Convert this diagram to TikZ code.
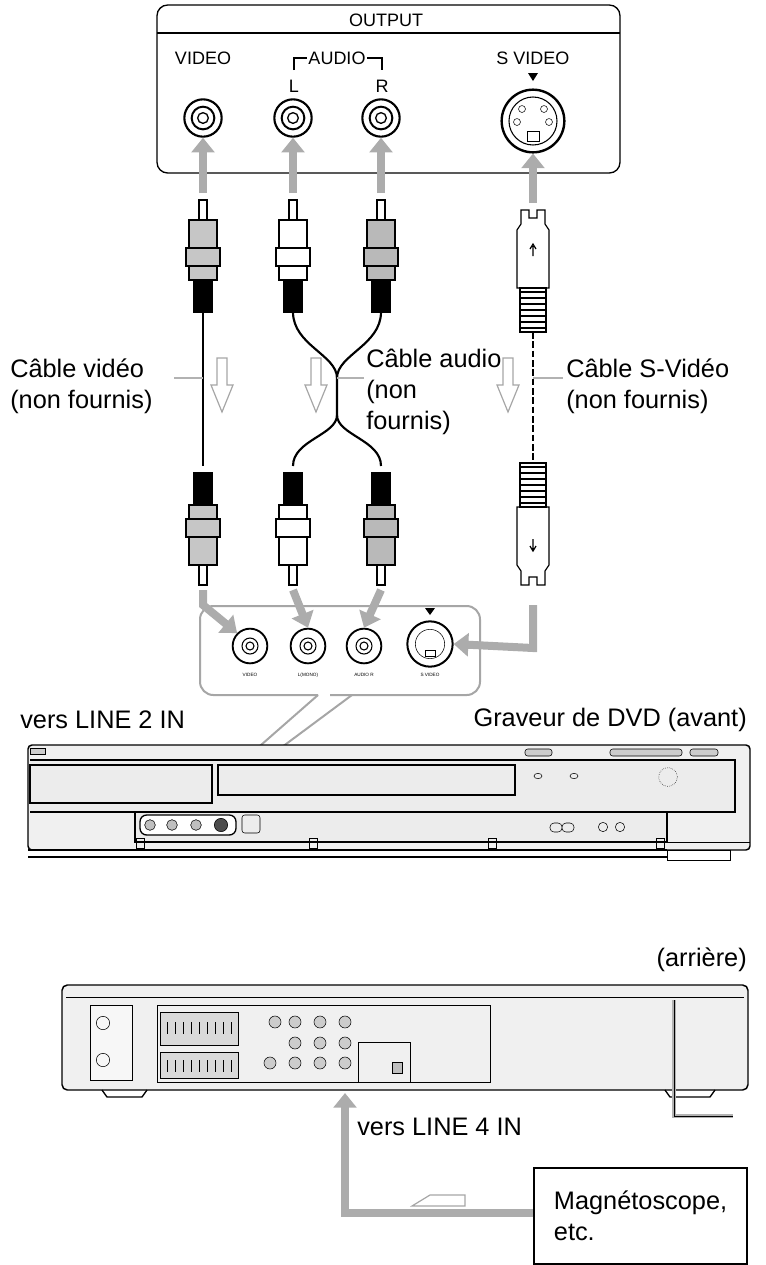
\documentclass[tikz,border=0pt]{standalone}
\usepackage{fontspec}
\setmainfont{Liberation Sans}
\usetikzlibrary{positioning,arrows.meta}

\tikzset{
  garrow/.style={draw=gray!65, line width=6pt, -{Triangle[width=17pt,length=11pt]}},
  hollow/.style={draw=gray!70, line width=0.9pt, fill=white},
  jack/.style={circle, draw, line width=1.6pt, fill=white, minimum size=28pt, inner sep=0pt},
  sjack/.style={circle, draw, line width=1.4pt, fill=white, minimum size=22pt, inner sep=0pt},
  lbl/.style={font=\fontsize{13.5}{15}\selectfont, inner sep=1pt},
  big/.style={font=\fontsize{19}{23}\selectfont, align=left, inner sep=0pt},
  tiny/.style={font=\fontsize{3.5}{4}\selectfont, inner sep=0pt},
  unit/.style={draw, line width=1.1pt, fill=gray!12},
}

% RCA plug, pin at (#1,#2), body along +y (local), #3 = yscale, #4 = body colour
\newcommand{\rcaplug}[4]{%
  \begin{scope}[shift={(#1,#2)}, yscale=#3, line width=0.9pt]
    \draw[fill=white] (-4,0) rectangle (4,20);
    \draw[fill=#4] (-14,20) rectangle (14,48);
    \draw[fill=#4] (-17,48) rectangle (17,66);
    \draw[fill=#4] (-14,66) rectangle (14,80);
    \fill (-9,80) rectangle (9,112);
    \draw (-9,80) rectangle (9,112);
  \end{scope}}

% S-Video plug
\newcommand{\svplug}[3]{%
  \begin{scope}[shift={(#1,#2)}, yscale=#3, line width=0.9pt]
    \draw[fill=white] (-12,0) -- (-12,14) -- (-16,20) -- (-16,78) -- (16,78) -- (16,20) -- (12,14) -- (12,0) -- (4,0) -- (4,8) -- (-4,8) -- (-4,0) -- cycle;
    \draw (0,36) -- (0,46) (-3,39) -- (0,34) -- (3,39);
    \draw[fill=white] (-13,78) rectangle (13,122);
    \foreach \k in {82,88,...,118} \draw[line width=1.4pt] (-13,\k) -- (13,\k);
  \end{scope}}

\begin{document}
\begin{tikzpicture}[x=0.75pt, y=-0.75pt]
\useasboundingbox (0,0) rectangle (765,1265);

% OUTPUT panel
\draw[line width=1pt, rounded corners=8pt] (157,5) rectangle (620,173);
\draw[line width=1pt] (157,33) -- (620,33);
\node[lbl] (out) at (386,20) {OUTPUT};
\node[lbl] (lvideo) at (203,58) {VIDEO};
\node[lbl] (laudio) at (337,58) {AUDIO};
\draw[line width=0.9pt] (294,70) |- (laudio.west) (laudio.east) -| (382,70);
\node[lbl] at (294,86) {L};
\node[lbl] at (382,86) {R};
\node[lbl] (lsv) at (533,58) {S VIDEO};
\fill (528,73) -- (538,73) -- (533,81) -- cycle;

\node[jack] (jv) at (203,118) {};
\node[jack] (jl) at (293,118) {};
\node[jack] (jr) at (381,118) {};
\foreach \j in {jv,jl,jr} {
  \draw[line width=1.5pt] (\j) circle (8.5pt);
  \draw[line width=1pt] (\j) circle (4pt);
}
\node[circle, draw, line width=1.8pt, fill=white, minimum size=47pt] (js) at (533,121) {};
\draw[line width=0.8pt] (js) circle (18pt);
\foreach \p in {(522,109),(544,109),(517,122),(549,122)} \draw \p circle (2.6pt);
\draw (527,131) rectangle (539,141);

% arrows up into output
\coordinate (av) at (203,193);
\coordinate (al) at (293,193);
\coordinate (ar) at (381,193);
\coordinate (as) at (533,203);
\draw[garrow] (av) -- (jv.south);
\draw[garrow] (al) -- (jl.south);
\draw[garrow] (ar) -- (jr.south);
\draw[garrow] (as) -- (js.south);

% plugs, top
\rcaplug{203}{200}{1}{gray!45}
\rcaplug{293}{200}{1}{white}
\rcaplug{381}{200}{1}{gray!55}
\svplug{533}{210}{1}

% cables
\draw[line width=1.6pt] (203,312) -- (203,466);
\draw[line width=1.6pt] (293,312) .. controls (293,345) and (337,355) .. (337,378) -- (337,415)
  .. controls (337,435) and (293,440) .. (293,466);
\draw[line width=1.6pt] (381,312) .. controls (381,345) and (337,355) .. (337,378);
\draw[line width=1.6pt] (337,415) .. controls (337,435) and (381,440) .. (381,466);
\draw[line width=1.6pt, dash pattern=on 5pt off 2pt] (533,332) -- (533,463);

% plugs, bottom
\rcaplug{203}{585}{-1}{gray!45}
\rcaplug{293}{585}{-1}{white}
\rcaplug{381}{585}{-1}{gray!55}
\svplug{533}{585}{-1}

% hollow direction arrows
\foreach \x in {222,316,508}
  \draw[hollow] (\x-5,358) -- (\x+5,358) -- (\x+5,385) -- (\x+11,385) -- (\x,412) -- (\x-11,385) -- (\x-5,385) -- cycle;

% cable labels
\node[big, anchor=west] (cv) at (10,386) {Câble vidéo\\(non fournis)};
\node[big, anchor=north west] (ca) at (366,349) {Câble audio\\(non\\fournis)};
\node[big, anchor=west] (cs) at (566,386) {Câble S-Vidéo\\(non fournis)};
\draw[gray!60, line width=1pt] (174,378) -- (203,378);
\draw[gray!60, line width=1pt] (337,378) -- (364,378);
\draw[gray!60, line width=1pt] (533,378) -- (563,378);

% lower input panel (callout)
\draw[gray!70, line width=1.5pt, fill=white, rounded corners=10pt]
  (330,695) -- (480,695) -- (480,606) -- (200,606) -- (200,695) -- (318,695);
\draw[gray!70, line width=1.5pt] (318,695) -- (196,802);
\draw[gray!70, line width=1.5pt] (352,695) -- (204,805);
\node[sjack, minimum size=26pt] (iv) at (250,646) {};
\node[sjack, minimum size=26pt] (il) at (308,646) {};
\node[sjack, minimum size=26pt] (ir) at (364,646) {};
\foreach \j in {iv,il,ir} \draw[line width=0.8pt] (\j) circle (6pt) (\j) circle (3pt);
\node[circle, draw, line width=1.5pt, fill=white, minimum size=34pt] (is) at (430,644) {};
\draw (is) circle (11pt);
\draw (425,650) rectangle (435,656);
\fill (425,608) -- (435,608) -- (430,615) -- cycle;
\node[tiny] at (250,675) {VIDEO};
\node[tiny] at (308,675) {L(MONO)};
\node[tiny] at (364,675) {AUDIO R};
\node[tiny] at (430,675) {S VIDEO};

% arrows down into input panel
\coordinate (bv) at (203,590);
\coordinate (bl) at (293,590);
\coordinate (br) at (381,590);
\coordinate (bs) at (533,605);
\draw[garrow] (bv) -- (203,605) -- (iv.north west);
\draw[garrow] (bl) -- (il.north);
\draw[garrow] (br) -- (ir.north);
\draw[garrow] (bs) -- (533,648) -- (is.east);

\node[big, anchor=west] (l2) at (20,720) {vers LINE 2 IN};
\node[big, anchor=east] (gv) at (747,720) {Graveur de DVD (avant)};

% DVD front
\draw[unit, rounded corners=3pt] (28,745) rectangle (750,850);
\draw[line width=1pt, fill=gray!15] (30,760) -- (735,760) -- (735,812) -- (30,812);
\draw[line width=1pt] (30,765) rectangle (212,803);
\draw[line width=1pt] (218,765) rectangle (515,795);
\draw[fill=gray!40] (30,748) rectangle (45,754);
\draw[fill=gray!40, rounded corners=2pt] (525,749) rectangle (552,756);
\draw[fill=gray!40, rounded corners=2pt] (610,749) rectangle (682,756);
\draw[fill=gray!40, rounded corners=2pt] (690,749) rectangle (718,756);
\draw (538,776) ellipse (3pt and 2pt) (574,776) ellipse (3pt and 2pt);
\draw[densely dotted] (668,777) circle (7pt);
\draw[line width=1pt, fill=gray!15] (135,812) rectangle (667,842);
\draw[line width=1pt, fill=white, rounded corners=5pt] (140,815) rectangle (236,835);
\foreach \x in {150,172,196} \draw[fill=gray!50] (\x,825) circle (4pt);
\draw[fill=black!70] (221,825) circle (5pt);
\draw[rounded corners=2pt] (242,815) rectangle (260,833);
\draw[rounded corners=3pt] (550,823) rectangle (562,832) (562,823) rectangle (574,832);
\draw (603,827) circle (3.5pt) (620,827) circle (3.5pt);
\draw[line width=1pt] (28,850) -- (667,850) (28,857) -- (667,857);
\draw (667,842) -- (750,842);
\draw (667,850) rectangle (730,860);
\foreach \x in {140,313,492,660} \draw (\x-4,838) rectangle (\x+4,848);

% DVD rear
\node[big, anchor=east] (ar2) at (747,960) {(arrière)};
\draw[unit, rounded corners=4pt] (62,985) rectangle (748,1090);
\draw (66,997) -- (744,997);
\draw[fill=gray!6] (90,1005) rectangle (132,1080);
\draw (103,1023) circle (5pt) (103,1060) circle (5pt);
\draw (157,1005) rectangle (490,1082);
\draw[fill=gray!30] (160,1012) rectangle (238,1045) (160,1052) rectangle (238,1078);
\foreach \x in {167,175,...,232} \draw (\x,1022) -- (\x,1034) (\x,1060) -- (\x,1072);
\foreach \x/\y in {275/1022, 295/1022, 295/1043, 295/1063, 320/1022, 320/1043, 320/1063, 345/1022, 345/1043, 345/1063, 270/1063}
  \draw[fill=gray!40] (\x,\y) circle (4.5pt);
\draw (358,1042) rectangle (410,1082);
\draw[fill=gray!50] (392,1062) rectangle (402,1073);
\draw[line width=1pt] (102,1090) -- (107,1097) -- (142,1097) -- (147,1090);
\draw[line width=1pt] (665,1090) -- (670,1097) -- (710,1097) -- (715,1090);
\draw[line width=2.5pt, gray!60] (674,1000) -- (674,1116) -- (733,1116);
\draw (674,1000) -- (674,1116) -- (733,1116);

% VCR link
\node[draw, line width=1.4pt, minimum width=160pt, minimum height=72pt, big, anchor=north west,
      text width=130pt] (vcr) at (533,1167) {Magnétoscope,\\etc.};
\node[big, anchor=west] (l4) at (357,1127) {vers LINE 4 IN};
\draw[garrow] (vcr.west |- 0,1213) -- (345,1213) -- (345,1093);
\draw[hollow] (465,1206) -- (465,1195) -- (430,1195) -- (412,1206) -- cycle;
\end{tikzpicture}
\end{document}
